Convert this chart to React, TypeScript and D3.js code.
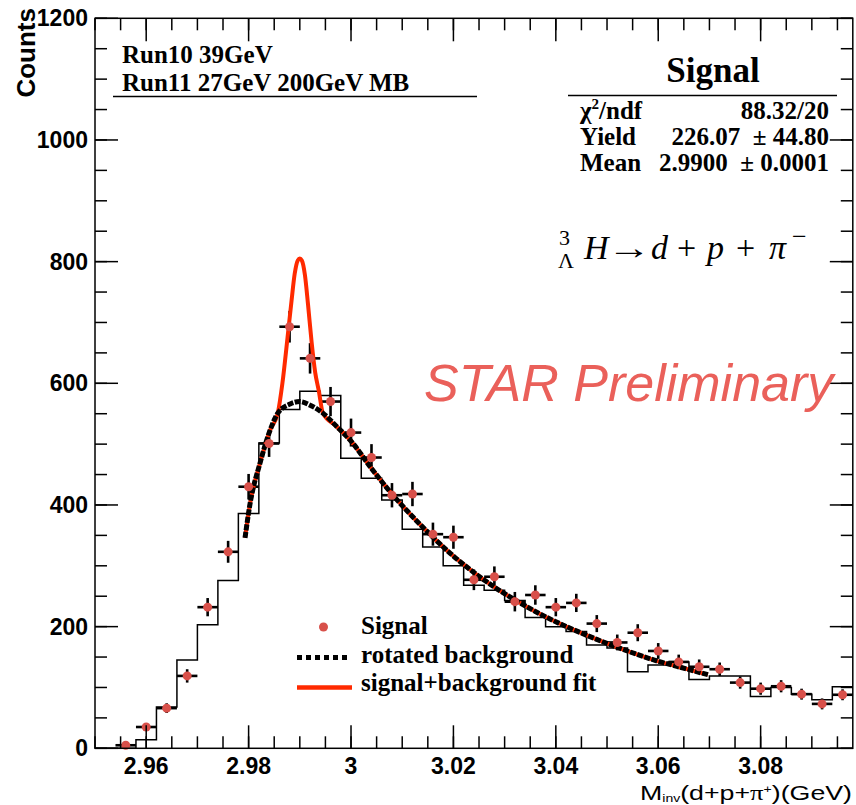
import React from 'react';
import * as d3 from 'd3';

// ---------------- data ----------------
const histLowEdge = 2.95;
const histBinWidth = 0.004;
const histCounts = [0, 0, 14, 68, 145, 203, 276, 386, 502, 557, 587, 580, 477, 444, 408, 360, 331, 300, 268, 260, 243, 215, 200, 192, 170, 165, 126, 137, 142, 113, 119, 119, 85, 100, 89, 80, 101];

const signalMass = [2.956, 2.960, 2.964, 2.968, 2.972, 2.976, 2.980, 2.984, 2.988, 2.992, 2.996, 3.000, 3.004, 3.008, 3.012, 3.016, 3.020, 3.024, 3.028, 3.032, 3.036, 3.040, 3.044, 3.048, 3.052, 3.056, 3.060, 3.064, 3.068, 3.072, 3.076, 3.080, 3.084, 3.088, 3.092, 3.096];
const signalCounts = [5, 35, 66, 119, 232, 323, 430, 501, 693, 641, 570, 519, 478, 416, 418, 352, 347, 277, 282, 241, 252, 232, 239, 205, 174, 190, 160, 142, 134, 130, 108, 98, 102, 89, 73, 88];
const signalErrors = [2, 6, 8, 11, 15, 18, 21, 22, 26, 25, 24, 23, 22, 20, 20, 19, 19, 17, 17, 16, 16, 15, 15, 14, 13, 14, 13, 12, 12, 11, 10, 10, 10, 9, 9, 9];

const bkgMass = [2.9793, 2.9803, 2.9822, 2.9842, 2.9857, 2.9881, 2.9900, 2.9920, 2.9945, 2.9972, 3.000, 3.004, 3.008, 3.012, 3.016, 3.020, 3.024, 3.028, 3.032, 3.036, 3.040, 3.044, 3.048, 3.052, 3.056, 3.060, 3.064, 3.0697];
const bkgCounts = [346, 403, 468, 523, 551, 566, 570, 564, 551, 529, 505, 460, 418, 381, 347, 316, 289, 265, 244, 225, 208, 193, 179, 166, 154, 143, 134, 121];

const peakMass = [2.9866, 2.9876, 2.9884, 2.9890, 2.9896, 2.9900, 2.9904, 2.9910, 2.9916, 2.9923, 2.9930, 2.9937];
const peakCounts = [600, 675, 737, 780, 802, 805, 802, 778, 730, 668, 618, 588];

const xMajorTicks = [2.96, 2.98, 3.0, 3.02, 3.04, 3.06, 3.08];
const xTickLabels = ['2.96', '2.98', '3', '3.02', '3.04', '3.06', '3.08'];
const yMajorTicks = [0, 200, 400, 600, 800, 1000, 1200];
const yTickLabels = ['0', '200', '400', '600', '800', '1000', '1200'];

const runLines = ['Run10 39GeV', 'Run11 27GeV 200GeV MB'];
const statLabels = ['/ndf', 'Yield', 'Mean'];
const statValues = ['88.32/20', '226.07  \u00b1 44.80', '2.9900  \u00b1 0.0001'];
const legendLabels = ['Signal', 'rotated background', 'signal+background fit'];

// ---------------- style ----------------
const SERIF = '"Liberation Serif", "Times New Roman", serif';
const SANS = '"Liberation Sans", Arial, Helvetica, sans-serif';
const MARKER = '#d8504a';
const FITRED = '#ff2a00';
const STARRED = '#ea605a';

const L = 95, R = 852.8, T = 18.3, B = 748.3;

export default function App() {
  const x = d3.scaleLinear().domain([2.95, 3.098]).range([L, R]);
  const y = d3.scaleLinear().domain([0, 1200]).range([B, T]);

  const xMinor = d3.ticks(2.95, 3.098, 30);
  const yMinor = d3.ticks(0, 1200, 24);

  // histogram step path
  const histPts: [number, number][] = histCounts.map((c, i) => [histLowEdge + i * histBinWidth, c]);
  histPts.push([histLowEdge + histCounts.length * histBinWidth, histCounts[histCounts.length - 1]]);
  const stepLine = d3.line<[number, number]>().x(d => x(d[0])).y(d => y(d[1])).curve(d3.curveStepAfter);

  const bkg: [number, number][] = bkgMass.map((m, i) => [m, bkgCounts[i]]);
  const peak: [number, number][] = peakMass.map((m, i) => [m, peakCounts[i]]);
  const fit: [number, number][] = [
    ...bkg.filter(d => d[0] <= 2.9857),
    ...peak,
    ...bkg.filter(d => d[0] >= 2.9945),
  ];
  const smooth = d3.line<[number, number]>().x(d => x(d[0])).y(d => y(d[1])).curve(d3.curveMonotoneX);

  const halfW = histBinWidth / 2;

  return (
    <svg width={856} height={805} style={{ position: 'absolute', left: 0, top: 0, background: '#fff' }}>
      <rect x={0} y={0} width={856} height={805} fill="#fff" />

      {/* histogram */}
      <path d={stepLine(histPts) || ''} fill="none" stroke="#000" strokeWidth={1.5} />

      {/* error bars */}
      <g stroke="#000" strokeWidth={2.6}>
        {signalMass.map((m, i) => (
          <g key={i}>
            <line x1={x(m - halfW)} x2={x(m + halfW)} y1={y(signalCounts[i])} y2={y(signalCounts[i])} />
            <line x1={x(m)} x2={x(m)} y1={y(signalCounts[i] - signalErrors[i])} y2={y(signalCounts[i] + signalErrors[i])} />
          </g>
        ))}
      </g>

      {/* fit curves */}
      <path d={smooth(fit) || ''} fill="none" stroke={FITRED} strokeWidth={4} />
      <path d={smooth(bkg) || ''} fill="none" stroke="#000" strokeWidth={5} strokeDasharray="6,1.5" />

      {/* markers */}
      <g fill={MARKER}>
        {signalMass.map((m, i) => (
          <circle key={i} cx={x(m)} cy={y(signalCounts[i])} r={4.5} />
        ))}
      </g>

      {/* frame */}
      <rect x={L} y={T} width={R - L} height={B - T} fill="none" stroke="#000" strokeWidth={1.5} />

      {/* ticks */}
      <g stroke="#000" strokeWidth={1.5}>
        {xMinor.map((t, i) => (
          <g key={'xm' + i}>
            <line x1={x(t)} x2={x(t)} y1={B} y2={B - 12} />
            <line x1={x(t)} x2={x(t)} y1={T} y2={T + 12} />
          </g>
        ))}
        {xMajorTicks.map((t, i) => (
          <g key={'xM' + i}>
            <line x1={x(t)} x2={x(t)} y1={B} y2={B - 23} />
            <line x1={x(t)} x2={x(t)} y1={T} y2={T + 23} />
          </g>
        ))}
        {yMinor.map((t, i) => (
          <g key={'ym' + i}>
            <line x1={L} x2={L + 12} y1={y(t)} y2={y(t)} />
            <line x1={R} x2={R - 12} y1={y(t)} y2={y(t)} />
          </g>
        ))}
        {yMajorTicks.map((t, i) => (
          <g key={'yM' + i}>
            <line x1={L} x2={L + 23} y1={y(t)} y2={y(t)} />
            <line x1={R} x2={R - 23} y1={y(t)} y2={y(t)} />
          </g>
        ))}
      </g>

      {/* tick labels */}
      <g fontFamily={SANS} fontWeight="bold" fontSize={23} fill="#000">
        {xMajorTicks.map((t, i) => (
          <text key={'xl' + i} x={x(t)} y={774} textAnchor="middle">{xTickLabels[i]}</text>
        ))}
        {yMajorTicks.map((t, i) => (
          <text key={'yl' + i} x={88} y={y(t) + 8} textAnchor="end">{yTickLabels[i]}</text>
        ))}
      </g>

      {/* axis titles */}
      <text transform="translate(35,8) rotate(-90)" textAnchor="end" fontFamily={SANS} fontWeight="bold" fontSize={26}>Counts</text>
      <text x={640} y={800} fontFamily={SANS} fontSize={21} textLength={212} lengthAdjust="spacingAndGlyphs">
        M<tspan fontSize={11} dy={2}>inv</tspan><tspan dy={-2}>(d+p+</tspan>
        <tspan fontFamily={SERIF}>π</tspan><tspan fontSize={11} dy={-7}>+</tspan><tspan dy={7}>)(GeV)</tspan>
      </text>

      {/* run info box */}
      <g fontFamily={SERIF} fontWeight="bold" fontSize={25}>
        {runLines.map((s, i) => (
          <text key={i} x={122} y={63 + i * 28}>{s}</text>
        ))}
      </g>
      <line x1={113} x2={477} y1={96.5} y2={96.5} stroke="#000" strokeWidth={1.5} />

      {/* stats box */}
      <text x={713} y={82} textAnchor="middle" fontFamily={SERIF} fontWeight="bold" fontSize={35}>Signal</text>
      <line x1={568} x2={837} y1={95.5} y2={95.5} stroke="#000" strokeWidth={1.5} />
      <g fontFamily={SERIF} fontWeight="bold" fontSize={25}>
        <text x={580} y={119}>χ<tspan fontSize={15} dy={-10}>2</tspan><tspan dy={10}>{statLabels[0]}</tspan></text>
        <text x={580} y={145}>{statLabels[1]}</text>
        <text x={580} y={171}>{statLabels[2]}</text>
        {statValues.map((v, i) => (
          <text key={i} x={829} y={119 + i * 26} textAnchor="end" style={{ whiteSpace: 'pre' }}>{v}</text>
        ))}
      </g>

      {/* decay formula */}
      <g fontFamily={SERIF} fill="#000">
        <text x={559} y={245} fontSize={22}>3</text>
        <text x={558} y={268} fontSize={22}>Λ</text>
        <text x={584} y={259} fontSize={34} fontStyle="italic">H</text>
        <text x={607} y={259} fontSize={34} textLength={44} lengthAdjust="spacingAndGlyphs">→</text>
        <text y={259} fontSize={34}>
          <tspan x={651} fontStyle="italic">d</tspan>
          <tspan x={677}>+</tspan>
          <tspan x={707} fontStyle="italic">p</tspan>
          <tspan x={736}>+</tspan>
          <tspan x={769} fontStyle="italic">π</tspan>
          <tspan x={792} dy={-14} fontSize={26}>−</tspan>
        </text>
      </g>

      {/* STAR Preliminary */}
      <text x={424} y={401} fontFamily={SANS} fontStyle="italic" fontSize={52} fill={STARRED}>STAR Preliminary</text>

      {/* legend */}
      <circle cx={323.5} cy={627} r={4.5} fill={MARKER} />
      <line x1={297} x2={350} y1={657.5} y2={657.5} stroke="#000" strokeWidth={5} strokeDasharray="5,4" />
      <line x1={297} x2={352} y1={687.5} y2={687.5} stroke={FITRED} strokeWidth={4.5} />
      <g fontFamily={SERIF} fontWeight="bold" fontSize={25}>
        {legendLabels.map((s, i) => (
          <text key={i} x={361} y={634 + i * 28.5}>{s}</text>
        ))}
      </g>
    </svg>
  );
}
